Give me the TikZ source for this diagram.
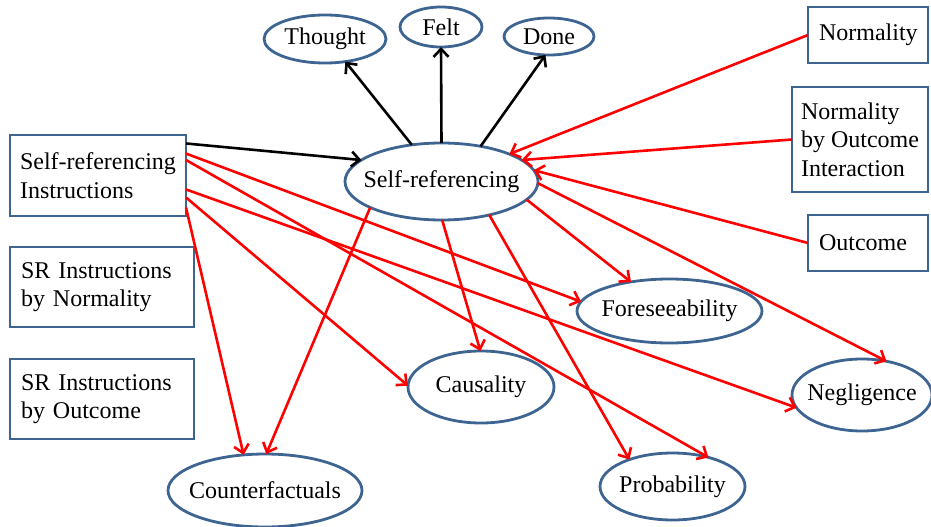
\documentclass[tikz,border=0pt]{standalone}
\usepackage{fontspec}
\setmainfont{Liberation Serif}
\usetikzlibrary{shapes.geometric,arrows.meta}
\definecolor{bordc}{RGB}{62,100,145}
\definecolor{redc}{RGB}{255,0,0}
\newcommand{\zb}[1]{\makebox[0pt]{#1}}
\tikzset{
  ell/.style={ellipse, draw=bordc, line width=2.8pt, inner sep=0pt, outer sep=0pt},
  box/.style={rectangle, draw=bordc, line width=2.8pt, inner xsep=11pt, inner ysep=0pt, outer sep=0pt, align=left},
  blk/.style={line width=2.6pt, draw=black, -{Straight Barb[length=8pt,width=15pt,line width=2.6pt]}},
  rd/.style={line width=2.6pt, draw=redc, -{Straight Barb[length=8pt,width=15pt,line width=2.6pt]}},
}
\begin{document}
\begin{tikzpicture}[x=1pt,y=-1pt,font=\fontsize{24}{28.5}\selectfont]
\useasboundingbox (0,0) rectangle (931,527);
% boxes
\node[box, inner xsep=0pt, minimum width=176pt, minimum height=81pt] (sri) at (98,175.5) {Self-referencing\\Instructions};
\node[box, minimum width=184pt, minimum height=80pt, text width=162pt] (srn) at (102,287) {SR Instructions\\by Normality};
\node[box, minimum width=184pt, minimum height=80pt, text width=162pt] (sro) at (102,399) {SR Instructions\\by Outcome};
\node[box, minimum width=120pt, minimum height=56pt, text width=98pt] (norm) at (868,35) {Normality};
\node[box, inner xsep=0pt, minimum width=136pt, minimum height=105pt] (nboi) at (860,139.5) {Normality\\by Outcome\\Interaction};
\node[box, minimum width=120pt, minimum height=56pt, text width=98pt] (outc) at (868,243) {Outcome};
% ellipses
\node[ell, minimum width=122pt, minimum height=48pt] (thought) at (325,39) {\zb{Thought}};
\node[ell, minimum width=82pt, minimum height=40pt] (felt) at (441,27) {\zb{Felt}};
\node[ell, minimum width=90pt, minimum height=37pt] (done) at (549,36.5) {\zb{Done}};
\node[ell, minimum width=193pt, minimum height=77pt] (sr) at (441.5,181.5) {\zb{Self-referencing}};
\node[ell, minimum width=185pt, minimum height=64pt] (fore) at (669.5,311) {\zb{Foreseeability}};
\node[ell, minimum width=146pt, minimum height=72pt] (caus) at (481,387) {\zb{Causality}};
\node[ell, minimum width=140pt, minimum height=72pt] (negl) at (862,395) {\zb{Negligence}};
\node[ell, minimum width=145pt, minimum height=67pt] (prob) at (672.5,486.5) {\zb{Probability}};
\node[ell, minimum width=194pt, minimum height=73pt] (cf) at (265,490.5) {\zb{Counterfactuals}};
% black arrows
\draw[blk] (sri.20.27) -- (sr.165.4);
\draw[blk] (sr.129.3) -- (thought.-48.5);
\draw[blk] (sr.90) -- (felt.-90);
\draw[blk] (sr.42.9) -- (done.-101);
% red arrows from SRI
\draw[rd] (sri.14.97) -- (fore.174.7);
\draw[rd] (sri.10.62) -- (prob.39.4);
\draw[rd] (sri.-9.99) -- (negl.-169.4);
\draw[rd] (sri.-14.97) -- (caus.179.2);
\draw[rd] (sri.-20.27) -- (cf.121.5);
% red arrows into self-referencing
\draw[rd] (norm.180) -- (sr.22.0);
\draw[rd] (nboi.180) -- (sr.15.4);
\draw[rd] (outc.180) -- (sr.7.4);
% red arrows out of self-referencing
\draw[rd] (sr.-12.3) -- (fore.143.8);
\draw[rd] (sr.-1.5) -- (negl.54.2);
\draw[rd] (sr.-35.4) -- (prob.148.9);
\draw[rd] (sr.-89) -- (caus.91.5);
\draw[rd] (sr.-160.3) -- (cf.88.5);
\end{tikzpicture}
\end{document}
